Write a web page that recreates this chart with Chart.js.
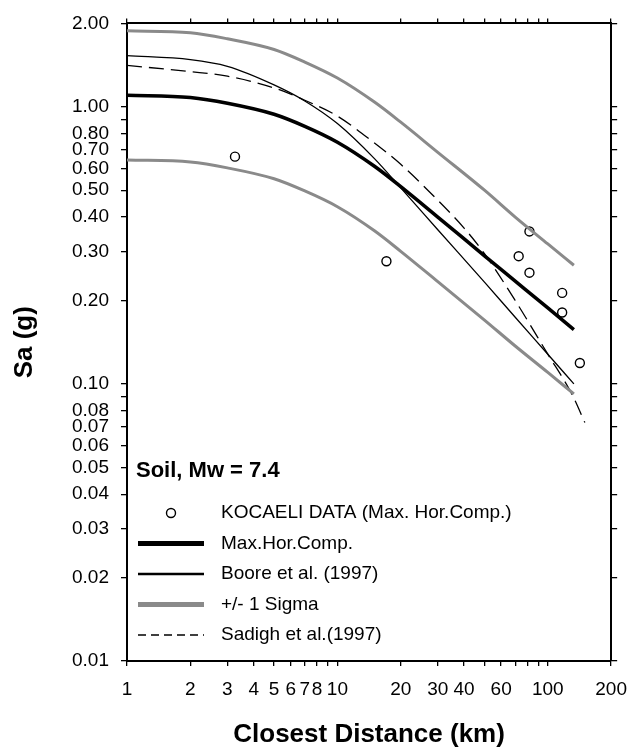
<!DOCTYPE html>
<html>
<head>
<meta charset="utf-8">
<script src="https://cdn.jsdelivr.net/npm/chart.js@4/dist/chart.umd.min.js"></script>
<style>
  html, body { margin: 0; padding: 0; background: #fff; }
  #wrap { width: 639px; height: 754px; }
</style>
</head>
<body>
<div id="wrap"><canvas id="chart" width="639" height="754"></canvas></div>
<script>
// Values (distance in km, Sa in g)
const kocaeliDist = [3.26, 17.1, 72.7, 81.8, 81.8, 117, 117, 142];
const kocaeliSa   = [0.661, 0.277, 0.289, 0.355, 0.252, 0.213, 0.181, 0.119];

const curveDist = [1, 2, 3, 5, 7, 10, 15, 20, 30, 50, 70, 100, 133];
const medianSa  = [1.10, 1.08, 1.03, 0.94, 0.85, 0.745, 0.61, 0.515, 0.40, 0.29, 0.235, 0.188, 0.157];
const upperSa   = [1.88, 1.85, 1.76, 1.61, 1.45, 1.27, 1.04, 0.88, 0.685, 0.50, 0.40, 0.32, 0.268];
const lowerSa   = [0.643, 0.632, 0.602, 0.55, 0.497, 0.436, 0.357, 0.301, 0.234, 0.17, 0.137, 0.11, 0.092];
const booreSa   = [1.53, 1.48, 1.40, 1.20, 1.05, 0.87, 0.65, 0.51, 0.36, 0.233, 0.174, 0.128, 0.100];

const sadighDist = [1, 2, 3, 5, 7, 10, 15, 20, 30, 40, 50, 70, 100, 130, 150];
const sadighSa   = [1.41, 1.34, 1.29, 1.17, 1.056, 0.926, 0.74, 0.62, 0.46, 0.365, 0.295, 0.2, 0.128, 0.092, 0.0725];

const xTicks      = [1, 2, 3, 4, 5, 6, 7, 8, 9, 10, 20, 30, 40, 50, 60, 70, 80, 90, 100, 200];
const xTickLabels = ['1', '2', '3', '4', '5', '6', '7', '8', '', '10', '20', '30', '40', '', '60', '', '', '', '100', '200'];
const yTicks      = [0.01, 0.02, 0.03, 0.04, 0.05, 0.06, 0.07, 0.08, 0.09, 0.1, 0.2, 0.3, 0.4, 0.5, 0.6, 0.7, 0.8, 0.9, 1, 2];
const yTickLabels = ['0.01', '0.02', '0.03', '0.04', '0.05', '0.06', '0.07', '0.08', '', '0.10', '0.20', '0.30', '0.40', '0.50', '0.60', '0.70', '0.80', '', '1.00', '2.00'];

const legendTitle = 'Soil, Mw = 7.4';
const seriesLabels = ['KOCAELI DATA (Max. Hor.Comp.)', 'Max.Hor.Comp.', 'Boore et al. (1997)', '+/- 1 Sigma', 'Sadigh et al.(1997)'];

const FONT = "'Liberation Sans', Arial, sans-serif";
const GREY = '#8a8a8a';

function pairs(xs, ys) {
    return xs.map((x, i) => ({ x: x, y: ys[i] }));
}

// legend drawn inside the plot, lower left
const insideLegend = {
    id: 'insideLegend',
    afterDatasetsDraw(chart) {
        const ctx = chart.ctx;
        const left = chart.chartArea.left;
        const rows = [
            { ds: 5, sample: 'point' },
            { ds: 2, sample: 'line', width: 5 },
            { ds: 3, sample: 'line', width: 2.5 },
            { ds: 0, sample: 'line', width: 5 },
            { ds: 4, sample: 'line', width: 1.3, dash: [8, 5] }
        ];
        ctx.save();
        ctx.fillStyle = '#000';
        ctx.textAlign = 'left';
        ctx.textBaseline = 'middle';
        ctx.font = 'bold 22px ' + FONT;
        ctx.fillText(legendTitle, left + 9, 471);

        ctx.font = '19px ' + FONT;
        rows.forEach((row, i) => {
            const ds = chart.data.datasets[row.ds];
            const y = 513 + i * 30.5;
            if (row.sample === 'point') {
                ctx.beginPath();
                ctx.arc(left + 44, y, ds.pointRadius, 0, Math.PI * 2);
                ctx.lineWidth = ds.pointBorderWidth;
                ctx.strokeStyle = ds.pointBorderColor;
                ctx.stroke();
            } else {
                ctx.beginPath();
                ctx.setLineDash(row.dash || []);
                ctx.lineWidth = row.width;
                ctx.strokeStyle = ds.borderColor;
                ctx.moveTo(left + 11, y);
                ctx.lineTo(left + 77, y);
                ctx.stroke();
                ctx.setLineDash([]);
            }
            ctx.fillStyle = '#000';
            ctx.fillText(seriesLabels[i], left + 94, y);
        });
        ctx.restore();
    }
};

const tickSetter = (values) => (scale) => {
    scale.ticks = values.map(v => ({ value: v }));
};

new Chart(document.getElementById('chart'), {
    type: 'scatter',
    data: {
        datasets: [{
            label: seriesLabels[3],
            data: pairs(curveDist, upperSa),
            showLine: true,
            borderColor: GREY,
            borderWidth: 3,
            pointRadius: 0,
            cubicInterpolationMode: 'monotone'
        }, {
            label: seriesLabels[3] + ' (lower)',
            data: pairs(curveDist, lowerSa),
            showLine: true,
            borderColor: GREY,
            borderWidth: 3,
            pointRadius: 0,
            cubicInterpolationMode: 'monotone'
        }, {
            label: seriesLabels[1],
            data: pairs(curveDist, medianSa),
            showLine: true,
            borderColor: '#000',
            borderWidth: 3.5,
            pointRadius: 0,
            cubicInterpolationMode: 'monotone'
        }, {
            label: seriesLabels[2],
            data: pairs(curveDist, booreSa),
            showLine: true,
            borderColor: '#000',
            borderWidth: 1.3,
            pointRadius: 0,
            cubicInterpolationMode: 'monotone'
        }, {
            label: seriesLabels[4],
            data: pairs(sadighDist, sadighSa),
            showLine: true,
            borderColor: '#000',
            borderWidth: 1.3,
            borderDash: [15, 7],
            pointRadius: 0,
            cubicInterpolationMode: 'monotone'
        }, {
            label: seriesLabels[0],
            data: pairs(kocaeliDist, kocaeliSa),
            showLine: false,
            pointStyle: 'circle',
            pointRadius: 4.5,
            pointBorderWidth: 1.4,
            pointBorderColor: '#000',
            pointBackgroundColor: 'rgba(255,255,255,0)'
        }]
    },
    options: {
        responsive: false,
        animation: false,
        devicePixelRatio: 1,
        events: [],
        layout: { padding: 0 },
        plugins: {
            legend: { display: false },
            tooltip: { enabled: false }
        },
        scales: {
            x: {
                type: 'logarithmic',
                position: 'bottom',
                min: 1,
                max: 200,
                afterBuildTicks: tickSetter(xTicks),
                afterFit: (scale) => { scale.height = 93; },
                border: { display: true, color: '#000', width: 2 },
                grid: { drawOnChartArea: false, drawTicks: true, tickLength: 5, color: '#000', lineWidth: 1.3 },
                ticks: {
                    autoSkip: false,
                    maxRotation: 0,
                    padding: 12,
                    color: '#000',
                    font: { family: FONT, size: 19 },
                    callback: (v, i) => xTickLabels[i]
                },
                title: {
                    display: true,
                    text: 'Closest Distance (km)',
                    color: '#000',
                    font: { family: FONT, size: 26, weight: 'bold' },
                    padding: { top: 4, bottom: 4 }
                }
            },
            x2: {
                type: 'logarithmic',
                position: 'top',
                min: 1,
                max: 200,
                afterBuildTicks: tickSetter(xTicks),
                afterFit: (scale) => { scale.height = 16; },
                border: { display: true, color: '#000', width: 2 },
                grid: { drawOnChartArea: false, drawTicks: true, tickLength: 5, color: '#000', lineWidth: 1.3 },
                ticks: { display: false }
            },
            y: {
                type: 'logarithmic',
                position: 'left',
                min: 0.01,
                max: 2,
                afterBuildTicks: tickSetter(yTicks),
                afterFit: (scale) => { scale.width = 127; },
                border: { display: true, color: '#000', width: 2 },
                grid: { drawOnChartArea: false, drawTicks: true, tickLength: 6, color: '#000', lineWidth: 1.3 },
                ticks: {
                    autoSkip: false,
                    padding: 12,
                    color: '#000',
                    font: { family: FONT, size: 19 },
                    callback: (v, i) => yTickLabels[i]
                },
                title: {
                    display: true,
                    text: 'Sa (g)',
                    color: '#000',
                    font: { family: FONT, size: 26, weight: 'bold' },
                    padding: { top: 9, bottom: 4 }
                }
            },
            y2: {
                type: 'logarithmic',
                position: 'right',
                min: 0.01,
                max: 2,
                afterBuildTicks: tickSetter(yTicks),
                afterFit: (scale) => { scale.width = 19; },
                border: { display: true, color: '#000', width: 2 },
                grid: { drawOnChartArea: false, drawTicks: true, tickLength: 6, color: '#000', lineWidth: 1.3 },
                ticks: { display: false }
            }
        }
    },
    plugins: [insideLegend]
});
</script>
</body>
</html>
